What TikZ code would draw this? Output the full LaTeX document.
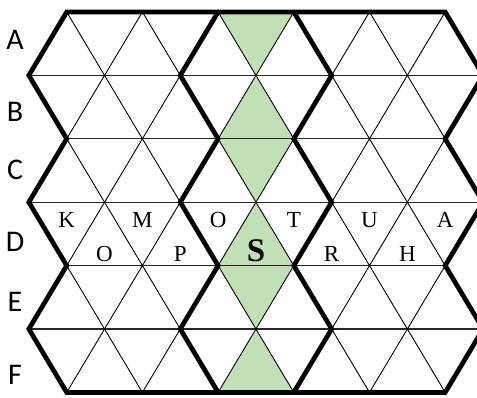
\documentclass[tikz,border=0pt]{standalone}
\usepackage{fontspec}
\setmainfont{Liberation Serif}
\newfontfamily\labelfont{Carlito}
\definecolor{cellgreen}{RGB}{193,224,183}

\begin{document}
\begin{tikzpicture}[x=1pt, y=-1pt,
    gridline/.style={black, line width=0.9pt},
    rowline/.style={black!85, line width=1.3pt},
    wall/.style={black, line width=4.7pt, line join=miter},
    letter/.style={anchor=base, inner sep=0pt, font=\fontsize{23}{23}\selectfont},
    rowlabel/.style={inner sep=0pt, font=\labelfont\fontsize{30}{30}\selectfont}]
    \clip (0,0) rectangle (477,397);
    \def\dx{75.7}
    \def\rh{63.4}

    % green column
    \foreach \r in {0,...,5} {
      \pgfmathsetmacro\ye{12+\rh*(\r+mod(\r,2))}
      \pgfmathsetmacro\yo{12+\rh*(\r+1-mod(\r,2))}
      \fill[cellgreen] (218.1,\ye) -- (293.8,\ye) -- (255.95,\yo) -- cycle;
    }

    % triangle grid
    \foreach \j in {1,3,5} \draw[rowline] (28.85,12+\rh*\j) -- (483.05,12+\rh*\j);
    \foreach \j in {2,4} \draw[rowline] (66.7,12+\rh*\j) -- (445.2,12+\rh*\j);
    \foreach \r in {0,...,5} {
      \pgfmathsetmacro\ye{12+\rh*(\r+mod(\r,2))}
      \pgfmathsetmacro\yo{12+\rh*(\r+1-mod(\r,2))}
      \foreach \k in {0,...,5}
        \draw[gridline] (66.7+\dx*\k-37.85,\yo) -- (66.7+\dx*\k,\ye) -- (66.7+\dx*\k+37.85,\yo);
    }

    % thick walls
    \draw[wall] (66.7,12) -- (445.2,12) -- (483.05,75.4) -- (445.2,138.8) -- (483.05,202.2)
      -- (445.2,265.6) -- (483.05,329) -- (445.2,392.4) -- (66.7,392.4) -- (28.85,329)
      -- (66.7,265.6) -- (28.85,202.2) -- (66.7,138.8) -- (28.85,75.4) -- cycle;
    \draw[wall] (218.1,12) -- (180.25,75.4) -- (218.1,138.8) -- (180.25,202.2)
      -- (218.1,265.6) -- (180.25,329) -- (218.1,392.4);
    \draw[wall] (293.8,12) -- (331.65,75.4) -- (293.8,138.8) -- (331.65,202.2)
      -- (293.8,265.6) -- (331.65,329) -- (293.8,392.4);

    % row labels
    \foreach \lab/\ly in {A/40,B/112,C/170,D/242,E/302,F/375}
      \node[rowlabel] (row\lab) at (15,\ly) {\lab};

    % letters in row D
    \foreach \t/\k in {K/0,M/1,O/2,T/3,U/4,A/5}
      \node[letter] (top\k) at (66.7+\dx*\k,227.7) {\t};
    \foreach \t/\k in {O/1,P/2,R/4,H/5}
      \node[letter] (bot\k) at (28.85+\dx*\k,261) {\t};
    \node[letter, font=\fontsize{33}{33}\selectfont\bfseries] (bot3) at (255.95,261) {S};
\end{tikzpicture}
\end{document}
